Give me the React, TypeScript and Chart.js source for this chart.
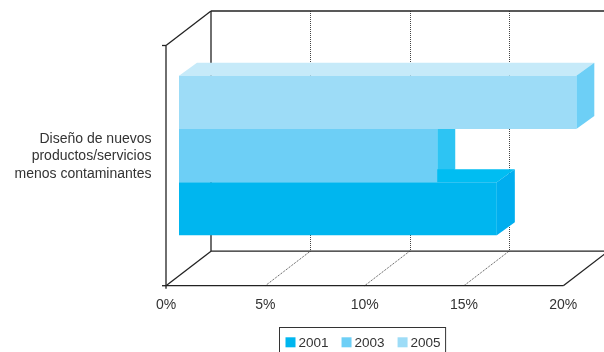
import React, { useEffect, useRef } from "react";
import { Chart, registerables } from "chart.js";

Chart.register(...registerables);

// ---- data ----
const categories = ["Diseño de nuevos productos/servicios menos contaminantes"];
const categoryLines = [["Diseño de nuevos", "productos/servicios", "menos contaminantes"]];
const seriesNames = ["2001", "2003", "2005"];
const values2001 = [16];
const values2003 = [13];
const values2005 = [20];
const tickValues = [0, 5, 10, 15, 20];
const tickLabels = ["0%", "5%", "10%", "15%", "20%"];

// ---- styles ----
const frontColors = ["#00b6ef", "#6dcff6", "#9ddcf7"];
const topColors = ["#00bdf2", "#8ad7f7", "#c6eaf9"];
const sideColors = ["#00aeef", "#2dc4f3", "#6dcff6"];
const FONT = '"Liberation Sans", Arial, sans-serif';
const TEXT = "#333333";
const LINE = "#222222";

// geometry offsets
const FRONT_DX = -13; // bar plane -> front frame
const FRONT_DY = 10;
const WALL_DX = 45; // front frame -> back wall
const WALL_DY = -34.5;
const BAR_DX = 18; // bar depth
const BAR_DY = -13;

const frame3d = {
  id: "frame3d",
  beforeDatasetsDraw(chart: any) {
    const { ctx, chartArea, scales } = chart;
    const xs = scales.x;
    const ys = scales.y;
    const fx = (v: number) => xs.getPixelForValue(v) + FRONT_DX;
    const top = chartArea.top + FRONT_DY;
    const bottom = chartArea.bottom + FRONT_DY;
    const line = (a: number, b: number, c: number, d: number) => {
      ctx.beginPath();
      ctx.moveTo(a, b);
      ctx.lineTo(c, d);
      ctx.stroke();
    };
    ctx.save();
    // dotted gridlines
    ctx.strokeStyle = "#444";
    ctx.lineWidth = 1;
    ctx.setLineDash([1, 1]);
    tickValues.forEach((v, i) => {
      if (i === 0 || i === tickValues.length - 1) return;
      const x = fx(v);
      const bx = Math.round(x + WALL_DX) + 0.5;
      line(bx, top + WALL_DY, bx, bottom + WALL_DY);
      line(x, bottom, x + WALL_DX, bottom + WALL_DY);
    });
    ctx.setLineDash([]);
    ctx.strokeStyle = LINE;
    ctx.lineWidth = 1.3;
    const x0 = fx(tickValues[0]);
    const x1 = fx(tickValues[tickValues.length - 1]);
    // back wall
    line(x0 + WALL_DX, top + WALL_DY, x1 + WALL_DX, top + WALL_DY);
    line(x0 + WALL_DX, bottom + WALL_DY, x1 + WALL_DX, bottom + WALL_DY);
    line(x0 + WALL_DX, top + WALL_DY, x0 + WALL_DX, bottom + WALL_DY);
    // left wall
    line(x0, top, x0 + WALL_DX, top + WALL_DY);
    line(x0, top, x0, bottom + 3);
    line(x0 - 4, top, x0, top);
    line(x0 - 4, bottom, x0, bottom);
    // floor
    line(x0, bottom, x1, bottom);
    line(x0, bottom, x0 + WALL_DX, bottom + WALL_DY);
    line(x1, bottom, x1 + WALL_DX, bottom + WALL_DY);

    // tick labels
    ctx.fillStyle = TEXT;
    ctx.font = `14px ${FONT}`;
    ctx.textAlign = "center";
    ctx.textBaseline = "alphabetic";
    tickValues.forEach((v, i) => {
      ctx.fillText(tickLabels[i], fx(v), bottom + 23.5);
    });

    // category label
    ctx.textAlign = "right";
    categoryLines.forEach((lines, ci) => {
      const cy = ys.getPixelForValue(ci);
      lines.forEach((t, li) => {
        ctx.fillText(t, x0 - 14.5, cy + (li - (lines.length - 1) / 2) * 17.5 + 4.5);
      });
    });

    // bar side faces (top & right), drawn from top bar to bottom bar
    const faces: any[] = [];
    chart.data.datasets.forEach((ds: any, di: number) => {
      const meta = chart.getDatasetMeta(di);
      meta.data.forEach((el: any) => {
        const p = el.getProps(["x", "y", "base", "height"], true);
        faces.push({ p, top: ds.topColor, side: ds.sideColor });
      });
    });
    faces.sort((a, b) => a.p.y - b.p.y);
    faces.forEach(({ p, top: tc, side: sc }) => {
      const l = Math.min(p.base, p.x);
      const r = Math.max(p.base, p.x);
      const t = p.y - p.height / 2;
      const b = p.y + p.height / 2;
      ctx.fillStyle = tc;
      ctx.beginPath();
      ctx.moveTo(l, t);
      ctx.lineTo(l + BAR_DX, t + BAR_DY);
      ctx.lineTo(r + BAR_DX, t + BAR_DY);
      ctx.lineTo(r, t);
      ctx.closePath();
      ctx.fill();
      ctx.fillStyle = sc;
      ctx.beginPath();
      ctx.moveTo(r, t);
      ctx.lineTo(r + BAR_DX, t + BAR_DY);
      ctx.lineTo(r + BAR_DX, b + BAR_DY);
      ctx.lineTo(r, b);
      ctx.closePath();
      ctx.fill();
    });
    ctx.restore();
  },
  afterDraw(chart: any) {
    const { ctx, scales } = chart;
    const xs = scales.x;
    const x0 = xs.getPixelForValue(tickValues[0]) + FRONT_DX;
    const x1 = xs.getPixelForValue(tickValues[tickValues.length - 1]) + FRONT_DX;
    const cx = (x0 + x1) / 2 - 3;
    ctx.save();
    ctx.font = `13.5px ${FONT}`;
    const pad = 6;
    const box = 10;
    const gap = 3;
    const itemGap = 13;
    const widths = seriesNames.map((n) => ctx.measureText(n).width);
    let total = pad * 2 - 1;
    widths.forEach((w, i) => {
      total += box + gap + w + (i < widths.length - 1 ? itemGap : 0);
    });
    const left = Math.round(cx - total / 2) + 0.5;
    const boxTop = 327.5;
    ctx.fillStyle = "#fff";
    ctx.fillRect(left, boxTop, total, 40);
    ctx.strokeStyle = "#333";
    ctx.lineWidth = 1;
    ctx.strokeRect(left, boxTop, total, 40);
    let x = left + pad;
    seriesNames.forEach((n, i) => {
      ctx.fillStyle = frontColors[i];
      ctx.fillRect(x, boxTop + 9.8, box, box);
      x += box + gap;
      ctx.fillStyle = TEXT;
      ctx.textAlign = "left";
      ctx.textBaseline = "alphabetic";
      ctx.fillText(n, x, boxTop + 19.3);
      x += widths[i] + itemGap;
    });
    ctx.restore();
  },
};

export default function App() {
  const ref = useRef<HTMLCanvasElement | null>(null);
  useEffect(() => {
    if (!ref.current) return;
    const series = [
      { name: seriesNames[2], values: values2005, idx: 2 },
      { name: seriesNames[1], values: values2003, idx: 1 },
      { name: seriesNames[0], values: values2001, idx: 0 },
    ];
    const chart = new Chart(ref.current, {
      type: "bar",
      data: {
        labels: categories,
        datasets: series.map((s) => ({
          label: s.name,
          data: s.values,
          backgroundColor: frontColors[s.idx],
          topColor: topColors[s.idx],
          sideColor: sideColors[s.idx],
          borderWidth: 0,
          categoryPercentage: 0.664,
          barPercentage: 1,
        })) as any,
      },
      options: {
        indexAxis: "y",
        animation: false,
        responsive: false,
        maintainAspectRatio: false,
        layout: { padding: { left: 179, right: 27.7, top: 35.5, bottom: 76.3 } },
        scales: {
          x: { type: "linear", min: 0, max: 20, display: false },
          y: { type: "category", display: false },
        },
        plugins: {
          legend: { display: false },
          tooltip: { enabled: false },
        },
      },
      plugins: [frame3d],
    });
    return () => chart.destroy();
  }, []);
  return (
    <div style={{ position: "absolute", left: 0, top: 0, width: 604, height: 352, overflow: "hidden", background: "#fff" }}>
      <canvas ref={ref} width={604} height={352} style={{ display: "block" }} />
    </div>
  );
}
